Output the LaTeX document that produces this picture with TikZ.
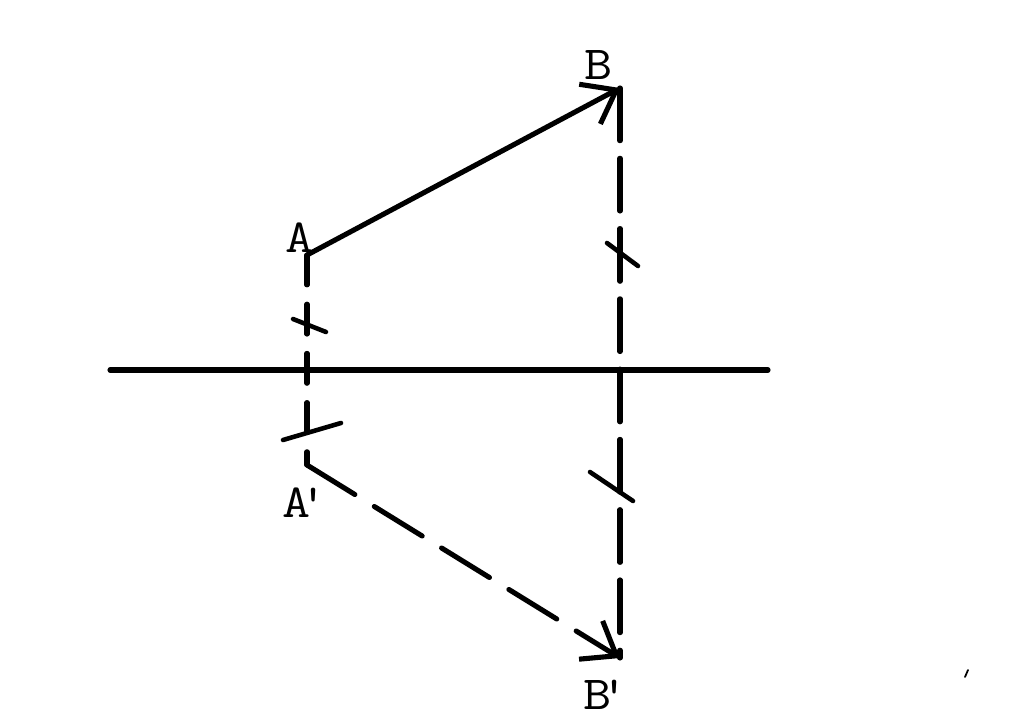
\documentclass[tikz,border=0pt]{standalone}
\usepackage{fontspec}
\usetikzlibrary{arrows.meta}
\begin{document}
\begin{tikzpicture}[x=0.02cm,y=-0.02cm,line width=2.9pt,line cap=round,
    freccia/.style={-{Straight Barb[length=0.6cm,width=0.9cm]}},
    trattAA/.style={dash pattern=on 17pt off 11pt},
    trattBB/.style={dash pattern=on 30pt off 10pt},
    trattAB/.style={dash pattern=on 32pt off 13pt},
    segno/.style={line width=2.6pt},
    lettera/.style={font=\ttfamily\fontsize{27}{29}\selectfont,inner sep=0pt,xscale=1.15}]
    \useasboundingbox (0,0) rectangle (1024,722);

    %%%%%%%%% Punti %%%%%%%%%
    \coordinate (A) at (307,255);
    \coordinate (B) at (620,88);
    \coordinate (Ap) at (307,465);
    \coordinate (Bp) at (620,658);
    \coordinate (xsx) at (110,370);
    \coordinate (xdx) at (768,370);

    %%%%%%%%% Testo %%%%%%%%%
    \node[lettera] (lA) at (300,238) {A};
    \node[lettera] (lB) at (599,65) {B};
    \node[lettera] (lAp) at (305,503) {A\kern-0.2em'};
    \node[lettera] (lBp) at (606,695) {B\kern-0.2em'};

    %%%%%%%%%% Assi %%%%%%%%%%
    \draw (xsx) -- (xdx);

    %%%%%%%%% Frecce %%%%%%%%%
    \draw[freccia] (A) -- (B);
    \draw[trattAA] (A) -- (Ap);
    \draw[trattBB] (B) -- (Bp);
    \draw[trattAB,freccia] (Ap) -- (Bp);

    %%%%%%%%% Segni %%%%%%%%%
    \draw[segno] (293,319) -- (326,332);
    \draw[segno] (283,440) -- (341,423);
    \draw[segno] (607,243) -- (638,266);
    \draw[segno] (590,472) -- (633,501);
    \draw[line width=1pt] (965,677) -- (968,670);
\end{tikzpicture}
\end{document}
